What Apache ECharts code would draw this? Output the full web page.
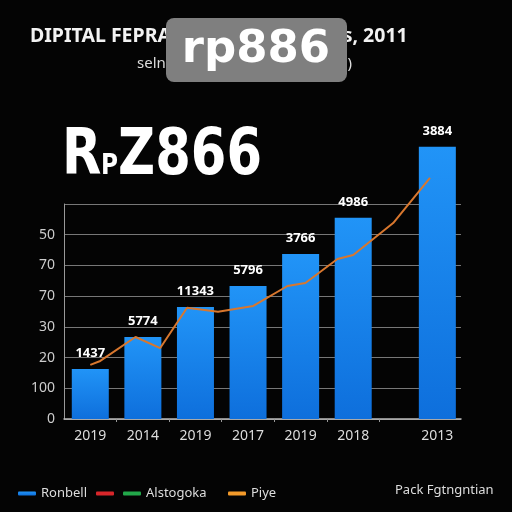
<!DOCTYPE html>
<html>
<head>
<meta charset="utf-8">
<script src="https://cdn.jsdelivr.net/npm/echarts@6/dist/echarts.min.js"></script>
<style>
  html, body { margin: 0; padding: 0; background: #040404; }
  #chart { width: 512px; height: 512px; }
</style>
</head>
<body>
<div id="chart"></div>
<script>
// category positions on the x axis (last bar sits further right)
const xPos = [1, 2, 3, 4, 5, 6, 7.6]
const xLabels = ['2019', '2014', '2019', '2017', '2019', '2018', '2013']
const barValues = [1.63, 2.67, 3.65, 4.33, 5.37, 6.55, 8.86]
const barLabels = ['1437', '5774', '11343', '5796', '3766', '4986', '3884']
const yLabels = ['0', '100', '20', '30', '70', '70', '50', '']
// trend line points [x, y]
const trendX = [1.0, 1.19, 1.86, 2.33, 2.84, 3.43, 4.1, 4.75, 5.09, 5.7, 6.0, 6.76, 7.46]
const trendY = [1.76, 1.89, 2.67, 2.31, 3.62, 3.49, 3.68, 4.33, 4.43, 5.21, 5.34, 6.38, 7.85]
const legendNames = ['Ronbell', '\u200b', 'Alstogoka', 'Piye']

const chart = echarts.init(document.getElementById('chart'))
const font = '"Noto Sans", "DejaVu Sans", sans-serif'
const bigFont = (size) => 'bold ' + size + 'px "DejaVu Sans", sans-serif'

// one small legend per entry, so each can sit where the picture has it
const legendLeft = [13, 91, 118, 223]
const legends = legendNames.map((name, i) => ({
  left: legendLeft[i],
  top: 482,
  itemWidth: 18,
  itemHeight: 4,
  icon: 'roundRect',
  textStyle: { color: '#dddddd', fontSize: 13 },
  data: [name]
}))

chart.setOption({
  backgroundColor: '#040404',
  animation: false,
  textStyle: { fontFamily: font },
  title: {
    text: 'DIPITAL FEPRANCE GROWTH SALs, 2011',
    left: 25,
    top: 21,
    textStyle: { color: '#f2f2f2', fontSize: 19.5, fontWeight: 'bold', fontFamily: font }
  },
  graphic: [
    {
      type: 'text',
      x: 137,
      y: 64,
      style: {
        text: 'selnimg revenue by year (USD)',
        fill: '#dddddd',
        font: '15px "Noto Sans", sans-serif',
        verticalAlign: 'middle'
      }
    },
    {
      type: 'rect',
      shape: { x: 166, y: 18, width: 181, height: 64, r: 8 },
      style: { fill: '#7f7f7f' },
      z: 100
    },
    {
      type: 'text',
      x: 256,
      y: 50,
      style: {
        text: 'rp886',
        fill: '#ffffff',
        font: bigFont(45),
        align: 'center',
        verticalAlign: 'middle'
      },
      z: 101
    },
    {
      type: 'text',
      x: 62,
      y: 189,
      scaleX: 0.8,
      style: { text: 'R', fill: '#ffffff', font: bigFont(64), verticalAlign: 'bottom' }
    },
    {
      type: 'text',
      x: 101,
      y: 181,
      scaleX: 0.8,
      style: { text: 'P', fill: '#ffffff', font: bigFont(29), verticalAlign: 'bottom' }
    },
    {
      type: 'text',
      x: 118,
      y: 189,
      scaleX: 0.8,
      style: { text: 'Z866', fill: '#ffffff', font: bigFont(64), verticalAlign: 'bottom' }
    },
    {
      type: 'text',
      x: 395,
      y: 490,
      style: {
        text: 'Pack Fgtngntian',
        fill: '#dddddd',
        font: '13px "Noto Sans", sans-serif',
        verticalAlign: 'middle'
      }
    }
  ],
  legend: legends,
  grid: {
    left: 64,
    right: 51,
    top: 204,
    bottom: 93,
    containLabel: false,
    outerBoundsMode: 'none'
  },
  xAxis: {
    type: 'value',
    min: 0.5,
    max: 8.05,
    splitLine: { show: false },
    axisLine: { show: true, lineStyle: { color: '#bbbbbb', width: 1.5 } },
    axisTick: {
      show: true,
      customValues: [1.5, 2.5, 3.5, 4.5, 5.5, 6.5],
      length: 3,
      lineStyle: { color: '#999' }
    },
    axisLabel: {
      customValues: xPos,
      formatter: (v) => xLabels[xPos.indexOf(v)],
      color: '#dddddd',
      fontSize: 14,
      margin: 10
    }
  },
  yAxis: {
    type: 'value',
    min: 0,
    max: 7,
    interval: 1,
    axisLine: { show: true, lineStyle: { color: '#999999' } },
    axisTick: { show: false },
    splitLine: { lineStyle: { color: '#777777', width: 1 } },
    axisLabel: {
      formatter: (v) => yLabels[v],
      color: '#cccccc',
      fontSize: 14,
      margin: 9
    }
  },
  series: [
    {
      name: legendNames[0],
      type: 'bar',
      clip: false,
      barWidth: 37,
      data: xPos.map((x, i) => [x, barValues[i]]),
      itemStyle: {
        color: new echarts.graphic.LinearGradient(0, 0, 0, 1, [
          { offset: 0, color: '#2194f7' },
          { offset: 1, color: '#0e6fdc' }
        ])
      },
      label: {
        show: true,
        position: 'top',
        distance: 9,
        color: '#ffffff',
        fontWeight: 'bold',
        fontSize: 13,
        formatter: (p) => barLabels[p.dataIndex]
      },
      z: 2
    },
    {
      name: legendNames[1],
      type: 'line',
      data: [],
      itemStyle: { color: '#d8262a' },
      lineStyle: { color: '#d8262a' }
    },
    {
      name: legendNames[2],
      type: 'line',
      data: [],
      itemStyle: { color: '#22a84a' },
      lineStyle: { color: '#22a84a' }
    },
    {
      name: legendNames[3],
      type: 'line',
      clip: false,
      showSymbol: false,
      symbol: 'none',
      data: trendX.map((x, i) => [x, trendY[i]]),
      itemStyle: { color: '#f39a2a' },
      lineStyle: { color: '#d8772e', width: 2 },
      z: 3
    }
  ]
})
</script>
</body>
</html>
